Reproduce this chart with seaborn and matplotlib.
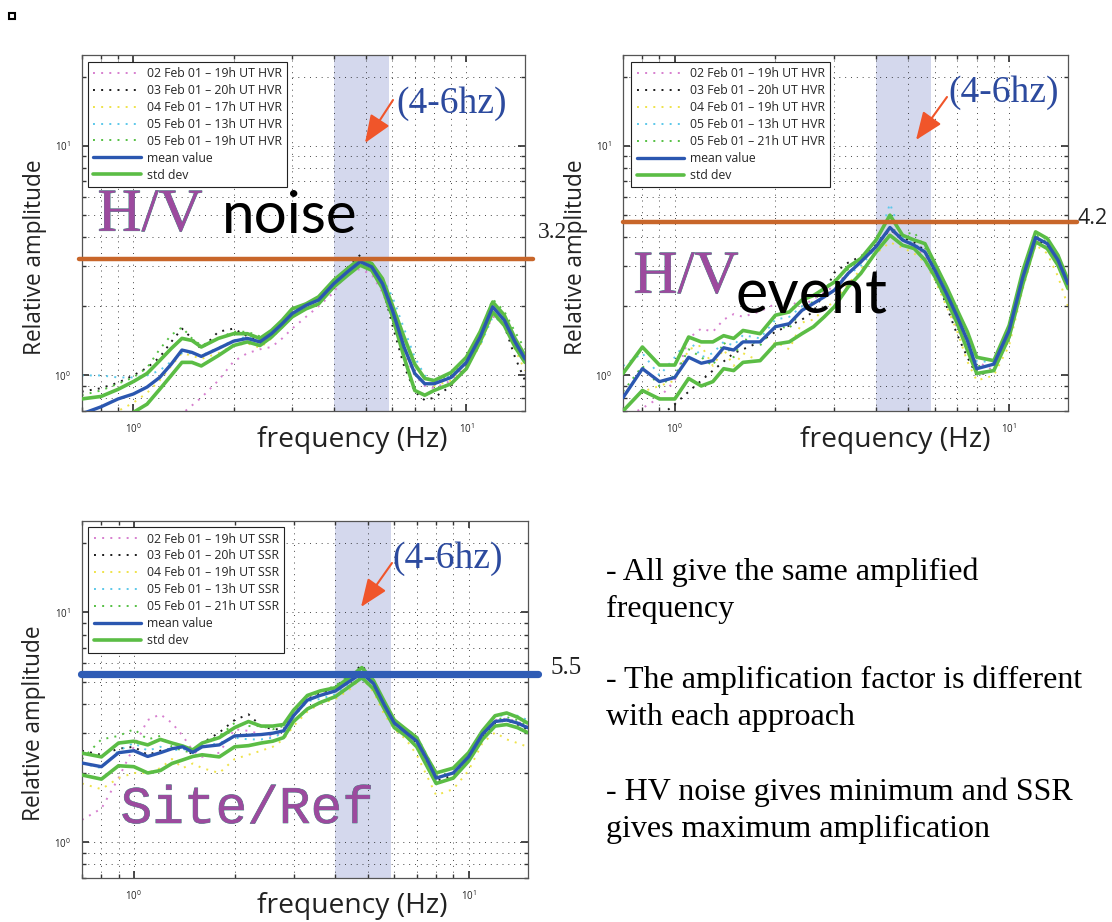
import numpy as np
import pandas as pd
import matplotlib
matplotlib.use("Agg")
import matplotlib.pyplot as plt
import matplotlib.patheffects as pe
from matplotlib.patches import Rectangle, FancyArrowPatch
from matplotlib.ticker import NullFormatter
import seaborn as sns

sns.set_theme(style="white")
plt.rcParams['font.family'] = ['Open Sans', 'DejaVu Sans']
plt.rcParams['mathtext.default'] = 'regular'

W, H = 1112, 922

# frequency grid (Hz) shared by all panels
freq = [0.7, 0.8, 0.9, 1.0, 1.1, 1.2, 1.3, 1.4, 1.5, 1.6, 1.8, 2.0, 2.2, 2.4, 2.6, 2.8,
        3.0, 3.3, 3.6, 4.0, 4.4, 4.8, 5.2, 5.6, 6.0, 6.5, 7.0, 7.5, 8.0, 9.0, 10, 11, 12, 13, 14, 15]

# ---- H/V noise ----
noise_labels = ['02 Feb 01 \u2013 19h UT HVR', '03 Feb 01 \u2013 20h UT HVR', '04 Feb 01 \u2013 17h UT HVR',
                '05 Feb 01 \u2013 13h UT HVR', '05 Feb 01 \u2013 19h UT HVR']
noise_02 = [0.45, 0.48, 0.5, 0.52, 0.55, 0.58, 0.62, 0.68, 0.74, 0.80, 0.95, 1.15, 1.25, 1.30, 1.33, 1.45, 1.60, 1.80,
            2.00, 2.30, 2.85, 2.90, 2.75, 2.30, 1.80, 1.25, 1.00, 0.90, 0.88, 0.95, 1.10, 1.40, 1.80, 1.75, 1.45, 1.15]
noise_03 = [0.85, 0.88, 0.93, 1.0, 1.08, 1.2, 1.40, 1.60, 1.45, 1.30, 1.55, 1.60, 1.48, 1.42, 1.55, 1.75, 1.85, 2.05,
            2.20, 2.50, 2.95, 3.35, 3.10, 2.45, 1.65, 1.10, 0.85, 0.78, 0.80, 0.90, 1.10, 1.45, 1.85, 1.65, 1.20, 0.95]
noise_04 = [0.62, 0.66, 0.70, 0.76, 0.84, 0.95, 1.10, 1.25, 1.22, 1.18, 1.25, 1.35, 1.38, 1.32, 1.45, 1.62, 1.85, 2.00,
            2.10, 2.45, 2.80, 3.05, 2.90, 2.45, 1.85, 1.30, 1.00, 0.92, 0.90, 0.95, 1.08, 1.35, 1.85, 1.65, 1.30, 1.05]
noise_05a = [1.0, 1.0, 0.98, 0.98, 1.0, 1.05, 1.15, 1.25, 1.25, 1.22, 1.32, 1.42, 1.48, 1.45, 1.52, 1.70, 1.90, 2.05,
             2.20, 2.55, 2.85, 3.05, 2.95, 2.65, 2.20, 1.60, 1.20, 1.00, 0.95, 1.00, 1.15, 1.35, 1.80, 1.70, 1.40, 1.20]
noise_05b = [0.82, 0.86, 0.92, 0.98, 1.08, 1.30, 1.50, 1.62, 1.45, 1.35, 1.45, 1.55, 1.55, 1.48, 1.55, 1.72, 1.92, 2.05,
             2.15, 2.55, 2.85, 3.15, 3.00, 2.55, 2.00, 1.45, 1.10, 0.98, 0.95, 1.00, 1.20, 1.55, 2.15, 1.90, 1.55, 1.30]
noise_mean = [0.68, 0.73, 0.79, 0.83, 0.89, 0.98, 1.12, 1.29, 1.26, 1.21, 1.31, 1.41, 1.45, 1.40, 1.52, 1.68, 1.86, 2.02,
              2.13, 2.51, 2.83, 3.13, 2.97, 2.51, 1.92, 1.33, 1.02, 0.92, 0.92, 0.98, 1.14, 1.47, 1.99, 1.74, 1.40, 1.18]
noise_upper = [0.79, 0.81, 0.87, 0.94, 1.02, 1.16, 1.31, 1.45, 1.42, 1.33, 1.45, 1.52, 1.52, 1.45, 1.57, 1.74, 1.95, 2.05,
               2.20, 2.60, 2.92, 3.23, 3.07, 2.64, 2.02, 1.47, 1.12, 0.97, 0.95, 1.03, 1.20, 1.55, 2.09, 1.83, 1.45, 1.22]
noise_lower = [0.60, 0.63, 0.66, 0.69, 0.75, 0.87, 1.00, 1.14, 1.14, 1.10, 1.22, 1.35, 1.40, 1.35, 1.47, 1.63, 1.80, 1.95,
               2.05, 2.43, 2.73, 3.02, 2.87, 2.39, 1.80, 1.20, 0.86, 0.82, 0.86, 0.92, 1.07, 1.40, 1.89, 1.65, 1.33, 1.14]

# ---- H/V event ----
event_labels = ['02 Feb 01 \u2013 19h UT HVR', '03 Feb 01 \u2013 20h UT HVR', '04 Feb 01 \u2013 19h UT HVR',
                '05 Feb 01 \u2013 13h UT HVR', '05 Feb 01 \u2013 21h UT HVR']
event_02 = [0.65, 0.72, 0.80, 0.95, 1.45, 1.60, 1.55, 1.75, 1.85, 1.80, 1.90, 2.05, 2.10, 2.00, 2.15, 2.30, 2.45, 2.80,
            3.10, 3.60, 4.30, 3.90, 3.70, 3.30, 2.70, 2.10, 1.60, 1.30, 1.15, 1.05, 1.55, 2.70, 3.95, 3.60, 3.10, 2.40]
event_03 = [0.60, 0.62, 0.66, 0.75, 0.85, 0.95, 1.05, 1.15, 1.25, 1.30, 1.40, 1.55, 1.65, 1.75, 1.90, 2.30, 2.80, 3.10,
            3.30, 3.70, 4.30, 4.00, 3.80, 3.50, 2.80, 2.00, 1.50, 1.20, 1.00, 1.05, 1.45, 2.60, 3.90, 3.70, 3.10, 2.50]
event_04 = [0.70, 0.85, 0.90, 0.95, 1.30, 1.35, 1.10, 1.30, 1.10, 1.25, 1.15, 1.40, 1.30, 1.70, 1.75, 1.95, 2.10, 2.50,
            2.90, 3.40, 3.80, 3.60, 3.40, 3.10, 2.60, 2.00, 1.55, 1.15, 0.95, 1.00, 1.35, 2.40, 3.70, 3.40, 2.70, 2.00]
event_05a = [1.10, 1.25, 1.00, 1.20, 1.45, 1.20, 1.25, 1.40, 1.35, 1.50, 1.45, 1.75, 1.80, 2.00, 2.05, 2.20, 2.35, 2.75,
             3.00, 3.60, 5.60, 4.00, 3.75, 3.45, 2.90, 2.30, 1.80, 1.45, 1.15, 1.15, 1.60, 2.80, 4.20, 3.90, 3.30, 2.60]
event_05b = [0.85, 1.10, 0.90, 1.00, 1.30, 1.20, 1.10, 1.40, 1.20, 1.45, 1.35, 1.65, 1.60, 1.95, 2.10, 2.40, 2.60, 2.90,
             3.20, 3.60, 4.40, 4.10, 4.20, 3.60, 2.90, 2.20, 1.75, 1.40, 1.10, 1.10, 1.55, 2.70, 4.10, 3.80, 3.20, 2.60]
event_mean = [0.80, 1.07, 0.94, 0.98, 1.20, 1.13, 1.16, 1.32, 1.29, 1.40, 1.40, 1.63, 1.68, 1.92, 2.06, 2.20, 2.35, 2.78,
              3.12, 3.64, 4.41, 3.89, 3.69, 3.45, 2.87, 2.27, 1.80, 1.42, 1.07, 1.12, 1.57, 2.69, 3.99, 3.75, 3.18, 2.51]
event_upper = [1.02, 1.33, 1.11, 1.11, 1.47, 1.40, 1.40, 1.49, 1.45, 1.57, 1.52, 1.83, 1.89, 2.13, 2.23, 2.39, 2.55, 2.97,
               3.23, 3.89, 4.99, 4.08, 3.89, 3.75, 3.07, 2.43, 1.92, 1.55, 1.20, 1.16, 1.65, 2.87, 4.22, 3.95, 3.34, 2.60]
event_lower = [0.70, 0.86, 0.79, 0.79, 0.97, 0.90, 0.94, 1.07, 1.05, 1.14, 1.16, 1.37, 1.40, 1.52, 1.63, 1.80, 1.99, 2.43,
               2.78, 3.45, 4.08, 3.69, 3.57, 3.18, 2.69, 2.13, 1.68, 1.29, 1.02, 1.05, 1.47, 2.51, 3.82, 3.57, 3.02, 2.39]

# ---- Site/Ref (SSR) ----
ssr_labels = ['02 Feb 01 \u2013 19h UT SSR', '03 Feb 01 \u2013 20h UT SSR', '04 Feb 01 \u2013 19h UT SSR',
              '05 Feb 01 \u2013 13h UT SSR', '05 Feb 01 \u2013 21h UT SSR']
ssr_02 = [1.25, 1.40, 1.90, 2.60, 3.40, 3.60, 3.30, 2.90, 2.50, 2.35, 2.45, 3.10, 3.05, 2.95, 2.90, 3.00, 3.60, 4.20,
          4.40, 4.60, 5.10, 5.50, 4.90, 3.90, 3.20, 2.90, 2.60, 2.20, 1.90, 2.00, 2.30, 2.95, 3.40, 3.45, 3.35, 3.20]
ssr_03 = [2.50, 2.40, 2.55, 2.60, 2.40, 2.50, 2.55, 2.60, 2.40, 2.70, 3.00, 3.40, 3.60, 3.20, 3.10, 3.10, 3.55, 4.20,
          4.45, 4.70, 5.30, 5.90, 5.00, 3.90, 3.30, 3.00, 2.70, 2.25, 1.85, 1.95, 2.25, 2.85, 3.30, 3.40, 3.25, 3.10]
ssr_04 = [1.80, 1.70, 1.90, 2.00, 2.00, 2.10, 2.30, 2.10, 2.20, 2.10, 2.00, 2.30, 2.40, 2.50, 2.60, 2.80, 3.20, 3.70,
          4.00, 4.20, 4.60, 5.20, 4.50, 3.60, 3.10, 2.80, 2.40, 1.95, 1.60, 1.70, 2.05, 2.70, 3.00, 2.80, 2.70, 2.60]
ssr_05a = [2.20, 2.10, 2.50, 2.70, 2.50, 2.60, 2.50, 2.55, 2.45, 2.60, 2.70, 2.85, 2.80, 2.80, 2.85, 3.00, 3.50, 4.10,
           4.20, 4.40, 4.90, 5.10, 4.70, 3.80, 3.35, 3.10, 2.90, 2.40, 2.00, 2.10, 2.45, 3.05, 3.50, 3.60, 3.55, 3.40]
ssr_05b = [2.30, 2.80, 2.90, 3.10, 2.80, 2.90, 2.60, 2.50, 2.45, 2.70, 2.90, 3.30, 3.20, 3.20, 3.10, 3.20, 3.60, 4.30,
           4.50, 4.80, 5.30, 5.80, 5.00, 3.95, 3.35, 3.05, 2.75, 2.35, 1.95, 2.00, 2.35, 2.95, 3.40, 3.50, 3.40, 3.20]
ssr_mean = [2.21, 2.13, 2.45, 2.50, 2.36, 2.45, 2.55, 2.60, 2.46, 2.60, 2.65, 2.90, 2.92, 2.94, 2.98, 3.05, 3.55, 4.15,
            4.35, 4.55, 5.00, 5.45, 4.90, 3.95, 3.30, 3.00, 2.75, 2.30, 1.90, 2.00, 2.35, 2.95, 3.35, 3.40, 3.30, 3.15]
ssr_upper = [2.44, 2.35, 2.70, 2.75, 2.65, 2.80, 2.70, 2.62, 2.52, 2.70, 2.85, 3.15, 3.35, 3.20, 3.20, 3.25, 3.75, 4.35,
             4.55, 4.70, 5.20, 5.75, 5.05, 4.10, 3.40, 3.10, 2.85, 2.35, 2.00, 2.10, 2.45, 3.05, 3.55, 3.65, 3.50, 3.30]
ssr_lower = [1.96, 1.88, 2.15, 2.13, 2.00, 2.05, 2.20, 2.28, 2.36, 2.40, 2.35, 2.60, 2.63, 2.70, 2.75, 2.85, 3.35, 3.80,
             4.05, 4.30, 4.75, 5.20, 4.65, 3.80, 3.15, 2.90, 2.60, 2.15, 1.80, 1.90, 2.25, 2.80, 3.20, 3.25, 3.15, 3.00]

# amplification band and reference levels
band = [4.0, 5.85]
ref_levels = [3.2, 4.65, 5.4]
ref_labels = ['3.2', '4.2', '5.5']
notes = ['- All give the same amplified', 'frequency',
         '- The amplification factor is different', 'with each approach',
         '- HV noise gives minimum and SSR', 'gives maximum amplification']

run_colors = ['#d77fcf', '#1a1a1a', '#efe34a', '#5cc8ea', '#55c043']
MEAN_C = '#2b57b0'
STD_C = '#5bbd45'
BAND_C = '#cdd2ea'
ARROW_C = '#f0552a'
HZ_C = '#2c4a9e'
PURPLE = '#9c4a9e'


def fxy(x, y):
    # image pixel -> figure fraction
    return x / W, 1 - y / H


def axes_rect(l, t, r, b):
    return [l / W, 1 - b / H, (r - l) / W, (b - t) / H]


def draw_panel(ax, runs, labels, mean, upper, lower, level, level_color, level_lw, line_span,
               leg_anchor, xlab_pos, ylab_pos):
    ax.axvspan(band[0], band[1], color=BAND_C, alpha=0.85, zorder=0.3, lw=0)
    for vals, lab, col in zip(runs, labels, run_colors):
        sns.lineplot(x=freq, y=vals, ax=ax, color=col, lw=1.4, linestyle=(0, (1, 3.2)),
                     label=lab, zorder=2)
    sns.lineplot(x=freq, y=mean, ax=ax, color=MEAN_C, lw=2.4, label='mean value', zorder=4)
    sns.lineplot(x=freq, y=upper, ax=ax, color=STD_C, lw=2.6, label='std dev', zorder=3)
    sns.lineplot(x=freq, y=lower, ax=ax, color=STD_C, lw=2.6, label='_nolegend_', zorder=3)
    ax.axhline(level, xmin=line_span[0], xmax=line_span[1], color=level_color, lw=level_lw,
               clip_on=False, zorder=6)

    ax.set_xscale('log')
    ax.set_yscale('log')
    ax.set_xlim(0.7, 15)
    ax.set_ylim(0.7, 25)
    ax.xaxis.set_minor_formatter(NullFormatter())
    ax.yaxis.set_minor_formatter(NullFormatter())
    ax.set_axisbelow(True)
    ax.grid(True, which='both', color='k', lw=0.7, linestyle=(0, (1, 5)), alpha=0.8)
    ax.tick_params(which='both', direction='in', top=True, right=True, bottom=True, left=True,
                   labelsize=7, colors='#333333', labelcolor='#222222')
    ax.tick_params(which='major', length=5, pad=8)
    ax.tick_params(which='minor', length=3)
    for s in ax.spines.values():
        s.set_visible(True)
        s.set_color('#555555')
        s.set_linewidth(0.9)

    ax.set_xlabel('frequency (Hz)', fontsize=20.3, color='#222222')
    ax.xaxis.set_label_coords(*xlab_pos)
    ax.set_ylabel('Relative amplitude', fontsize=16.3, color='#222222')
    ax.yaxis.set_label_coords(*ylab_pos)

    leg = ax.legend(loc='upper left', bbox_to_anchor=leg_anchor, borderaxespad=0, fontsize=8.8,
                    frameon=True, fancybox=False, edgecolor='#222222', framealpha=1,
                    handlelength=3.9, handletextpad=0.45, labelspacing=0.32, borderpad=0.45)
    leg.get_frame().set_linewidth(0.8)
    leg.set_zorder(7)


fig = plt.figure(figsize=(W / 100, H / 100), dpi=100)
ax1 = fig.add_axes(axes_rect(81.7, 54.5, 525, 411))
ax2 = fig.add_axes(axes_rect(623, 54.5, 1068, 411))
ax3 = fig.add_axes(axes_rect(82, 521, 527.5, 877.7))

draw_panel(ax1, [noise_02, noise_03, noise_04, noise_05a, noise_05b], noise_labels,
           noise_mean, noise_upper, noise_lower, ref_levels[0], '#c8662a', 3.2, (-0.006, 1.018),
           (0.014, 0.98), (0.61, -0.043), (-0.078, 0.43))
draw_panel(ax2, [event_02, event_03, event_04, event_05a, event_05b], event_labels,
           event_mean, event_upper, event_lower, ref_levels[1], '#c8662a', 3.2, (0.0, 1.02),
           (0.018, 0.979), (0.611, -0.043), (-0.078, 0.43))
draw_panel(ax3, [ssr_02, ssr_03, ssr_04, ssr_05a, ssr_05b], ssr_labels,
           ssr_mean, ssr_upper, ssr_lower, ref_levels[2], '#2f5cb5', 5.2, (-0.002, 1.024),
           (0.0135, 0.983), (0.607, -0.041), (-0.08, 0.434))

# reference level labels
fig.text(*fxy(538, 232), ref_labels[0], fontsize=17, family='Liberation Serif', color='#222222',
         ha='left', va='center')
fig.text(*fxy(1078, 219), ref_labels[1], fontsize=15.5, color='#222222', ha='left', va='center')
fig.text(*fxy(551, 668), ref_labels[2], fontsize=18, family='Liberation Serif', color='#222222',
         ha='left', va='center')

# (4-6hz) band notes with arrows
hz_pos = [(452, 104), (1004, 93), (448, 559)]
arrows = [((393, 100), (365, 143)), ((947, 97), (916, 140)), ((392, 563), (361, 607))]
for (hx, hy), (tail, tip) in zip(hz_pos, arrows):
    fig.text(*fxy(hx, hy), '(4-6hz)', fontsize=27, family='Liberation Serif', color=HZ_C,
             ha='center', va='center')
    arr = FancyArrowPatch(fxy(*tail), fxy(*tip), transform=fig.transFigure,
                          arrowstyle='-|>,head_length=0.95,head_width=0.38', color=ARROW_C,
                          lw=1.5, mutation_scale=18, shrinkA=0, shrinkB=0)
    fig.add_artist(arr)

# method titles
outline = [pe.withStroke(linewidth=0.5, foreground='#3d8f7f')]
fig.text(*fxy(150, 216), 'H/V', fontsize=44, family='Liberation Serif', color=PURPLE,
         ha='center', va='center', path_effects=outline)
fig.text(*fxy(290, 233), 'noise', fontsize=42, family='Lato', color='black', ha='center', va='baseline')
fig.text(*fxy(686, 278), 'H/V', fontsize=44, family='Liberation Serif', color=PURPLE,
         ha='center', va='center', path_effects=outline)
fig.text(*fxy(812, 313), 'event', fontsize=44, family='Lato', color='black', ha='center', va='baseline')
fig.text(*fxy(247, 823), 'Site/Ref', fontsize=38, family='Liberation Mono', color=PURPLE,
         ha='center', va='baseline', path_effects=outline)

# notes on the right
note_y = [580, 617, 688, 725, 800, 837]
for txt, y in zip(notes, note_y):
    fig.text(*fxy(606, y), txt, fontsize=23, family='Liberation Serif', color='black',
             ha='left', va='baseline')

# small square mark in the corner
fig.patches.append(Rectangle(fxy(9, 19), 6 / W, 6 / H, transform=fig.transFigure, fill=False,
                             lw=1.5, ec='black'))

fig.savefig('out.png', dpi=100)
